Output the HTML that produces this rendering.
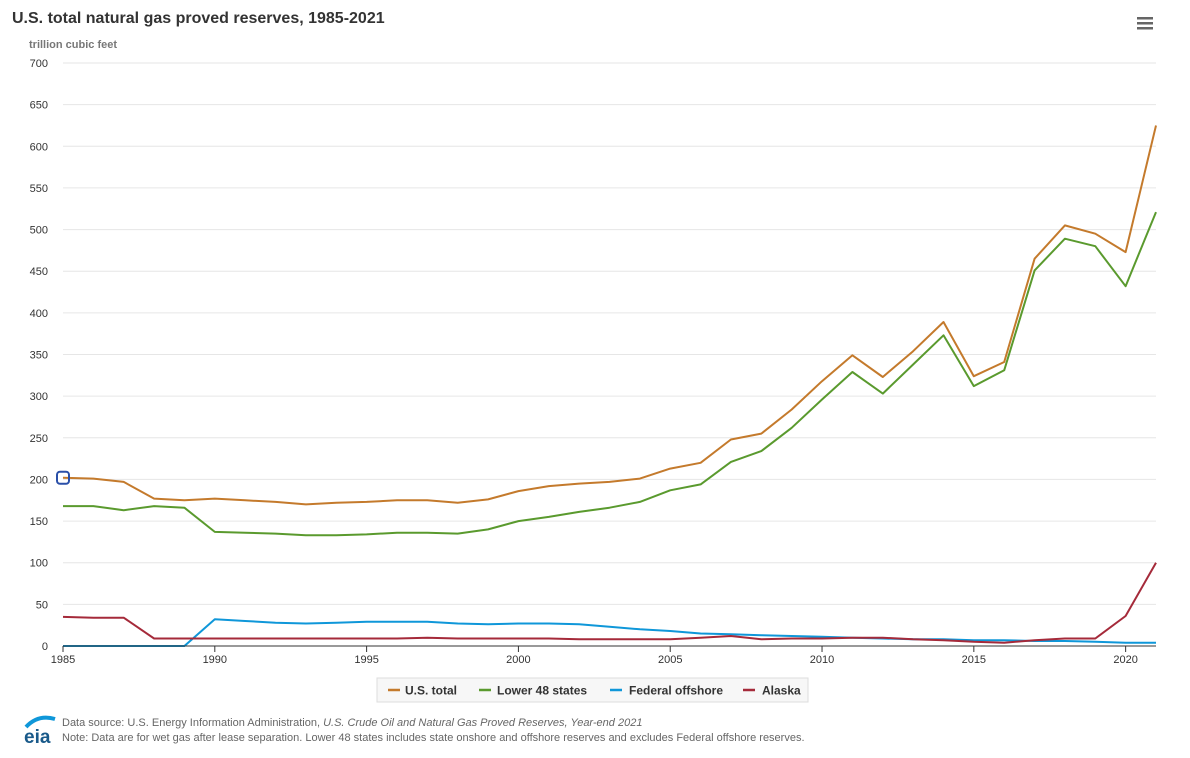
<!DOCTYPE html>
<html><head><meta charset="utf-8"><style>
body{margin:0;background:#fff;font-family:"Liberation Sans",Arial,sans-serif;}
svg text{font-family:"Liberation Sans",Arial,sans-serif;}
</style></head><body>
<svg id="chart" width="1190" height="753" xmlns="http://www.w3.org/2000/svg">
<text x="12" y="23" font-size="16" font-weight="bold" fill="#333">U.S. total natural gas proved reserves, 1985-2021</text>
<text x="29" y="48" font-size="11" font-weight="bold" fill="#777">trillion cubic feet</text>
<g><rect x="1137" y="17" width="16" height="2.5" fill="#666"/><rect x="1137" y="22" width="16" height="2.5" fill="#666"/><rect x="1137" y="27" width="16" height="2.5" fill="#666"/></g>
<g id="grid"></g><g id="series"></g><g id="axes"></g>
<g>
<rect x="377" y="678" width="431" height="24" fill="#f7f7f7" stroke="#ddd"/>
<g><line x1="388" y1="690" x2="400" y2="690" stroke="#c47a2c" stroke-width="2.5"/><text x="405" y="694.5" font-size="12" font-weight="bold" fill="#333">U.S. total</text></g>
<g><line x1="479" y1="690" x2="491" y2="690" stroke="#5a9a2e" stroke-width="2.5"/><text x="497" y="694.5" font-size="12" font-weight="bold" fill="#333">Lower 48 states</text></g>
<g><line x1="610" y1="690" x2="622" y2="690" stroke="#0f97d9" stroke-width="2.5"/><text x="629" y="694.5" font-size="12" font-weight="bold" fill="#333">Federal offshore</text></g>
<g><line x1="743" y1="690" x2="755" y2="690" stroke="#a52a3a" stroke-width="2.5"/><text x="762" y="694.5" font-size="12" font-weight="bold" fill="#333">Alaska</text></g>
</g>
<g><path d="M26 727 Q38 714 55 719" stroke="#0f97d9" stroke-width="4" fill="none"/><text x="24" y="743" font-size="19" font-weight="bold" fill="#1a5a8a">eia</text></g>
<text x="62" y="726" font-size="11" fill="#666">Data source: U.S. Energy Information Administration, <tspan font-style="italic">U.S. Crude Oil and Natural Gas Proved Reserves, Year-end 2021</tspan></text>
<text x="62" y="741" font-size="11" fill="#666">Note: Data are for wet gas after lease separation. Lower 48 states includes state onshore and offshore reserves and excludes Federal offshore reserves.</text>
</svg>
<script>
const years=[1985,1986,1987,1988,1989,1990,1991,1992,1993,1994,1995,1996,1997,1998,1999,2000,2001,2002,2003,2004,2005,2006,2007,2008,2009,2010,2011,2012,2013,2014,2015,2016,2017,2018,2019,2020,2021];
const usTotal=[202,201,197,177,175,177,175,173,170,172,173,175,175,172,176,186,192,195,197,201,213,220,248,255,284,318,349,323,354,389,324,341,465,505,495,473,625];
const lower48=[168,168,163,168,166,137,136,135,133,133,134,136,136,135,140,150,155,161,166,173,187,194,221,234,262,296,329,303,338,373,312,331,451,489,480,432,521];
const fedOffshore=[0,0,0,0,0,32,30,28,27,28,29,29,29,27,26,27,27,26,23,20,18,15,14,13,12,11,10,9,8,8,7,7,6,6,5,4,4];
const alaska=[35,34,34,9,9,9,9,9,9,9,9,9,10,9,9,9,9,8,8,8,8,10,12,8,9,9,10,10,8,7,5,4,7,9,9,36,100];
const yTicks=[0,50,100,150,200,250,300,350,400,450,500,550,600,650,700];
const xTicks=[1985,1990,1995,2000,2005,2010,2015,2020];
const NS='http://www.w3.org/2000/svg';
const X0=63,X1=1156,Y0=646,Y1=63;
const xs=y=>X0+(y-1985)/(2021-1985)*(X1-X0);
const ys=v=>Y0-v/700*(Y0-Y1);
function mk(t,a,p){const e=document.createElementNS(NS,t);for(const k in a)e.setAttribute(k,a[k]);p.appendChild(e);return e;}
const grid=document.getElementById('grid'),axes=document.getElementById('axes'),ser=document.getElementById('series');
yTicks.forEach(v=>{
 const l=mk('line',{x1:X0,x2:X1,y1:ys(v),y2:ys(v),stroke:v===0?'#333':'#e6e6e6','stroke-width':1},v===0?axes:grid);
 
 
 const t=mk('text',{x:48,y:ys(v)+4,'font-size':11,fill:'#333','text-anchor':'end'},axes);
 t.textContent=v;
 
 
});
xTicks.forEach(y=>{
 const l=mk('line',{x1:xs(y),x2:xs(y),y1:Y0,y2:Y0+6,stroke:'#333'},axes);
 
 
 const t=mk('text',{x:xs(y),y:Y0+17,'font-size':11,fill:'#333','text-anchor':'middle'},axes);
 t.textContent=y;
 
 
});
[[usTotal,'#c47a2c','line-us-total'],[lower48,'#5a9a2e','line-lower-48'],[fedOffshore,'#0f97d9','line-federal-offshore'],[alaska,'#a52a3a','line-alaska']].forEach(([d,c,n])=>{
 const p=mk('path',{d:d.map((v,i)=>(i?'L':'M')+xs(years[i]).toFixed(1)+' '+ys(v).toFixed(1)).join(''),stroke:c,'stroke-width':2,fill:'none','stroke-linejoin':'round'},ser);
 
 
});
const m=mk('rect',{x:xs(1985)-6,y:ys(usTotal[0])-6,width:12,height:12,rx:3,fill:'none',stroke:'#2a4fa8','stroke-width':2},ser);


</script>
</body></html>
